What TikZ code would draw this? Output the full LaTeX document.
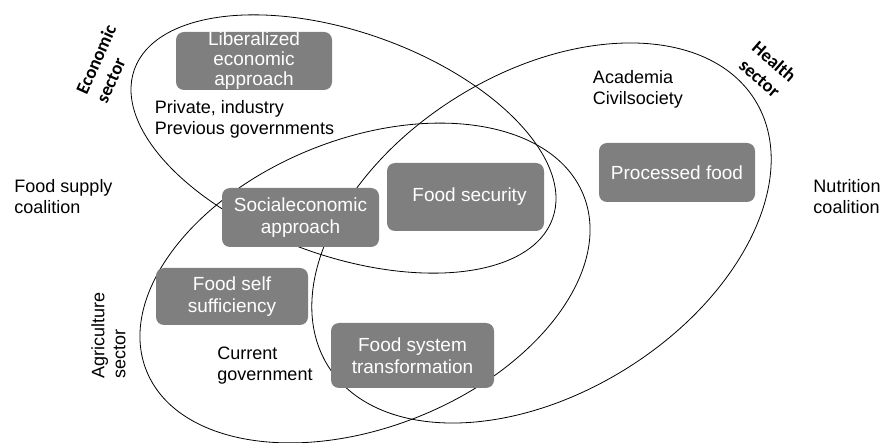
\documentclass[tikz,border=0pt]{standalone}
\usepackage{fontspec}
\setmainfont{Liberation Sans}
\newfontfamily\sectorfont{Carlito}
\usetikzlibrary{shapes.geometric}

\definecolor{boxgray}{HTML}{7F7F7F}

\begin{document}
\begin{tikzpicture}[x=1pt, y=1pt,
    every node/.style={font=\fontsize{18}{21}\selectfont},
    sector/.style={ellipse, draw, line width=0.8pt},
    box/.style={rectangle, rounded corners=8pt, fill=boxgray, text=white, align=center, inner xsep=2pt, inner ysep=0pt, font=\fontsize{19}{21.5}\selectfont},
    label/.style={align=left},
    tag/.style={font=\sectorfont\bfseries\fontsize{18.5}{22}\selectfont}]
                \useasboundingbox (0,0) rectangle (886,-443);

                % Sector ellipses
                \node at (343.5,-144) [sector, minimum width=444, minimum height=224, rotate=-19.6] (econ) {};
                \node at (541.5,-233) [sector, minimum width=503, minimum height=320, rotate=31.9] (health) {};
                \node at (365,-283) [sector, minimum width=471, minimum height=288, rotate=21.9] (agri) {};

                % Sector names
                \node at (106,-64) [tag, rotate=66, align=left] (econtag) {Economic\\sector};
                \node at (767,-70) [tag, rotate=-41, align=center] (healthtag) {Health\\sector};
                \node at (108.5,-335.5) [rotate=90, align=left] (agritag) {Agriculture\\sector};

                % Coalitions
                \node at (63.5,-197) [label] (supply) {Food supply\\coalition};
                \node at (847,-197) [label] (nutrition) {Nutrition\\coalition};

                % Actors
                \node at (244.5,-119) [label] (private) {Private, industry\\Previous governments};
                \node at (638,-89) [label] (academia) {Academia\\Civilsociety};
                \node at (265,-366) [label] (current) {Current\\government};

                % Approaches
                \node at (254,-61) [box, minimum width=156, minimum height=58, font=\fontsize{19}{20}\selectfont] (liberal) {Liberalized\\economic\\approach};
                \node at (300.5,-217.5) [box, minimum width=157, minimum height=59] (social) {Socialeconomic\\approach};
                \node at (465.5,-197) [box, minimum width=157, minimum height=68] (security) {\hspace{8pt}Food security};
                \node at (677,-172.5) [box, minimum width=156, minimum height=59] (processed) {Processed food};
                \node at (232,-296.5) [box, minimum width=152, minimum height=57] (selfsuff) {Food self\\sufficiency};
                \node at (412.5,-355.5) [box, minimum width=163, minimum height=65] (transform) {Food system\\transformation};

                \end{tikzpicture}
\end{document}
